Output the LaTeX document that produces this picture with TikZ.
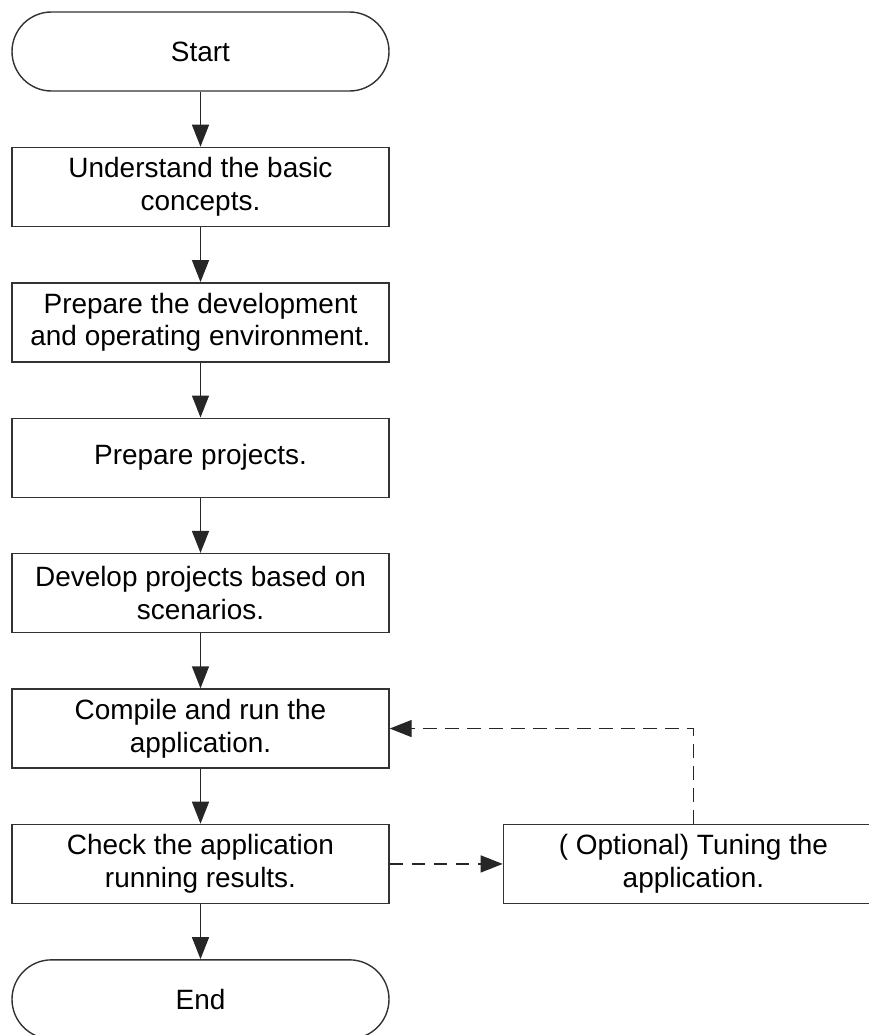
\documentclass[tikz,border=0pt]{standalone}
\usepackage{fontspec}
\setmainfont{Liberation Sans}
\usetikzlibrary{positioning,arrows.meta}
\begin{document}
\begin{tikzpicture}[x=1cm,y=1cm,
  font=\fontsize{15.9}{18.6}\selectfont,
  stepbox/.style={draw=black!80, line width=0.8pt, align=center, minimum width=7.54cm, minimum height=1.58cm, inner sep=2pt},
  termbox/.style={stepbox, rounded corners=0.79cm},
  flow/.style={draw=black!85, line width=0.8pt, -{Triangle[length=0.44cm,width=0.34cm]}},
  dashflow/.style={flow, dash pattern=on 0.27cm off 0.17cm},
  node distance=1.10cm]
\clip (0,0) rectangle (17.38,-20.7);
\node[termbox] (start) at (4.01,-1.03) {Start};
\node[stepbox, below=of start] (concepts) {Understand the basic\\ concepts.};
\node[stepbox, below=of concepts] (env) {Prepare the development\\ and operating environment.};
\node[stepbox, below=of env] (proj) {Prepare projects.};
\node[stepbox, below=of proj] (dev) {Develop projects based on\\ scenarios.};
\node[stepbox, below=of dev] (run) {Compile and run the\\ application.};
\node[stepbox, below=of run] (check) {Check the application\\ running results.};
\node[termbox, below=of check] (end) {End};
\node[stepbox, minimum width=7.6cm, right=2.26cm of check] (tune) {( Optional) Tuning the\\ application.};
\draw[flow] (start) -- (concepts);
\draw[flow] (concepts) -- (env);
\draw[flow] (env) -- (proj);
\draw[flow] (proj) -- (dev);
\draw[flow] (dev) -- (run);
\draw[flow] (run) -- (check);
\draw[flow] (check) -- (end);
\draw[dashflow] (check) -- (tune);
\draw[dashflow] (tune.north) |- (run.east);
\end{tikzpicture}
\end{document}
